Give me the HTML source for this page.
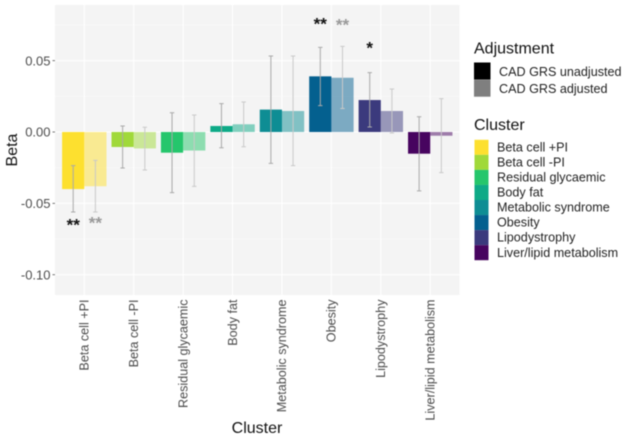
<!DOCTYPE html>
<html>
<head>
<meta charset="utf-8">
<style>
html,body{margin:0;padding:0;background:#fff;width:625px;height:437px;overflow:hidden}
svg{display:block;font-family:"Liberation Sans",sans-serif;filter:blur(0.45px)}
</style>
</head>
<body>
<svg id="chart" width="625" height="437" viewBox="0 0 625 437" xmlns="http://www.w3.org/2000/svg">
<rect x="55" y="5" width="404.5" height="290" fill="#f4f4f4"/>
<g id="grid"></g>
<g id="bars"></g>
<g id="errs"></g>
<g id="stars"></g>
<g id="yaxis"></g>
<g id="xaxis"></g>
<text transform="translate(17,150) rotate(-90)" text-anchor="middle" font-size="16" fill="#111">Beta</text>
<text x="257" y="433" text-anchor="middle" font-size="16" fill="#111">Cluster</text>
<g id="legend">
<text x="474" y="53.5" font-size="16" fill="#111">Adjustment</text>
<text x="474" y="130" font-size="16" fill="#111">Cluster</text>
</g>
</svg>
<script>
var categories = ["Beta cell +PI","Beta cell -PI","Residual glycaemic","Body fat","Metabolic syndrome","Obesity","Lipodystrophy","Liver/lipid metabolism"];
var clusterColors = ["#fde02f","#a0d93a","#25c66c","#0eaa87","#0e8d94","#04608f","#3b3a7d","#47045f"];
var unadjusted = [-0.040,-0.0105,-0.0145,0.0042,0.0157,0.039,0.0224,-0.0152];
var adjusted = [-0.038,-0.0115,-0.013,0.0054,0.0147,0.038,0.0147,-0.0026];
var unadjLow = [-0.0561,-0.0252,-0.0425,-0.011,-0.022,0.0185,0.0035,-0.0413];
var unadjHigh = [-0.0236,0.0042,0.0135,0.0199,0.0533,0.0593,0.0416,0.0107];
var adjLow = [-0.0561,-0.0266,-0.0381,-0.0103,-0.0236,0.0165,-0.0007,-0.0285];
var adjHigh = [-0.0199,0.0033,0.0119,0.021,0.0533,0.06,0.0301,0.0234];
var unadjStars = ["**","","","","","**","*",""];
var adjStars = ["**","","","","","**","",""];
var unadjStarY = [-0.0655,0,0,0,0,0.0755,0.0585,0];
var adjStarY = [-0.064,0,0,0,0,0.0745,0,0];
var yTicks = [0.05,0,-0.05,-0.10];
var yMinor = [0.075,0.025,-0.025,-0.075];
var adjustmentLabels = ["CAD GRS unadjusted","CAD GRS adjusted"];
var adjustmentColors = ["#000000","#7f7f7f"];

var NS = "http://www.w3.org/2000/svg";
function yScale(v){ return 132 - v * 1427; }
function xScale(i){ return 84.3 + i * 49.42; }
var BAR = 22.2;
function mk(parent, tag, attrs, txt){
  var e = document.createElementNS(NS, tag);
  for (var k in attrs) e.setAttribute(k, attrs[k]);
  if (txt !== undefined) e.textContent = txt;
  document.getElementById(parent).appendChild(e);
  return e;
}
var el, i;
yMinor.forEach(function(v){
  el = mk("grid","line",{x1:55,x2:459.5,y1:yScale(v),y2:yScale(v),stroke:"#fafafa","stroke-width":0.6});
  
  
});
yTicks.forEach(function(v){
  el = mk("grid","line",{x1:55,x2:459.5,y1:yScale(v),y2:yScale(v),stroke:"#ffffff","stroke-width":1.1});
  
  
  el = mk("yaxis","line",{x1:52.5,x2:55,y1:yScale(v),y2:yScale(v),stroke:"#555","stroke-width":0.8});
  
  
  el = mk("yaxis","text",{x:50.5,y:yScale(v)+4.6,"text-anchor":"end","font-size":13,fill:"#4d4d4d"},v.toFixed(2));
  
  
});
categories.forEach(function(c,i){
  var x = xScale(i);
  el = mk("grid","line",{x1:x,x2:x,y1:5,y2:295,stroke:"#ffffff","stroke-width":1.1});
  
  
  el = mk("xaxis","text",{transform:"translate("+(x+4.2)+",299.5) rotate(-90)","text-anchor":"end","font-size":12.6,fill:"#4d4d4d"},c);
  
  

  var y0 = yScale(0), yu = yScale(unadjusted[i]), ya = yScale(adjusted[i]);
  el = mk("bars","rect",{x:x-BAR,y:Math.min(y0,yu),width:BAR,height:Math.abs(yu-y0),fill:clusterColors[i]});
  
  
  el = mk("bars","rect",{x:x,y:Math.min(y0,ya),width:BAR,height:Math.abs(ya-y0),fill:clusterColors[i],"fill-opacity":0.5});
  
  

  var xu = x - BAR/2, xa = x + BAR/2;
  [[xu,unadjLow[i],unadjHigh[i],"#a9a9a9",1],[xa,adjLow[i],adjHigh[i],"#c9c9c9",1]].forEach(function(p){
    var yl = yScale(p[1]), yh = yScale(p[2]);
    el = mk("errs","path",{d:"M"+(p[0]-2.2)+" "+yh+"H"+(p[0]+2.2)+"M"+p[0]+" "+yh+"V"+yl+"M"+(p[0]-2.2)+" "+yl+"H"+(p[0]+2.2),stroke:p[3],"stroke-width":p[4],fill:"none"});
    
    
  });

  if (unadjStars[i]) {
    el = mk("stars","text",{x:xu,y:yScale(unadjStarY[i])+5,"text-anchor":"middle","font-size":17,"font-weight":"bold",fill:"#111"},unadjStars[i]);
    
    
  }
  if (adjStars[i]) {
    el = mk("stars","text",{x:xa,y:yScale(adjStarY[i])+5,"text-anchor":"middle","font-size":17,"font-weight":"bold",fill:"#999"},adjStars[i]);
    
    
  }
});
adjustmentLabels.forEach(function(l,i){
  var y = 62.5 + i * 17.2;
  el = mk("legend","rect",{x:474,y:y,width:16.5,height:17,fill:adjustmentColors[i]});
  
  
  el = mk("legend","text",{x:499,y:y+13.5,"font-size":12.6,fill:"#222"},l);
  
  
});
categories.forEach(function(c,i){
  var y = 139.8 + i * 15.05;
  el = mk("legend","rect",{x:474.5,y:y,width:14,height:15.05,fill:clusterColors[i]});
  
  
  el = mk("legend","text",{x:497,y:y+11.6,"font-size":12.6,fill:"#222"},c);
  
  
});
</script>
</body>
</html>
